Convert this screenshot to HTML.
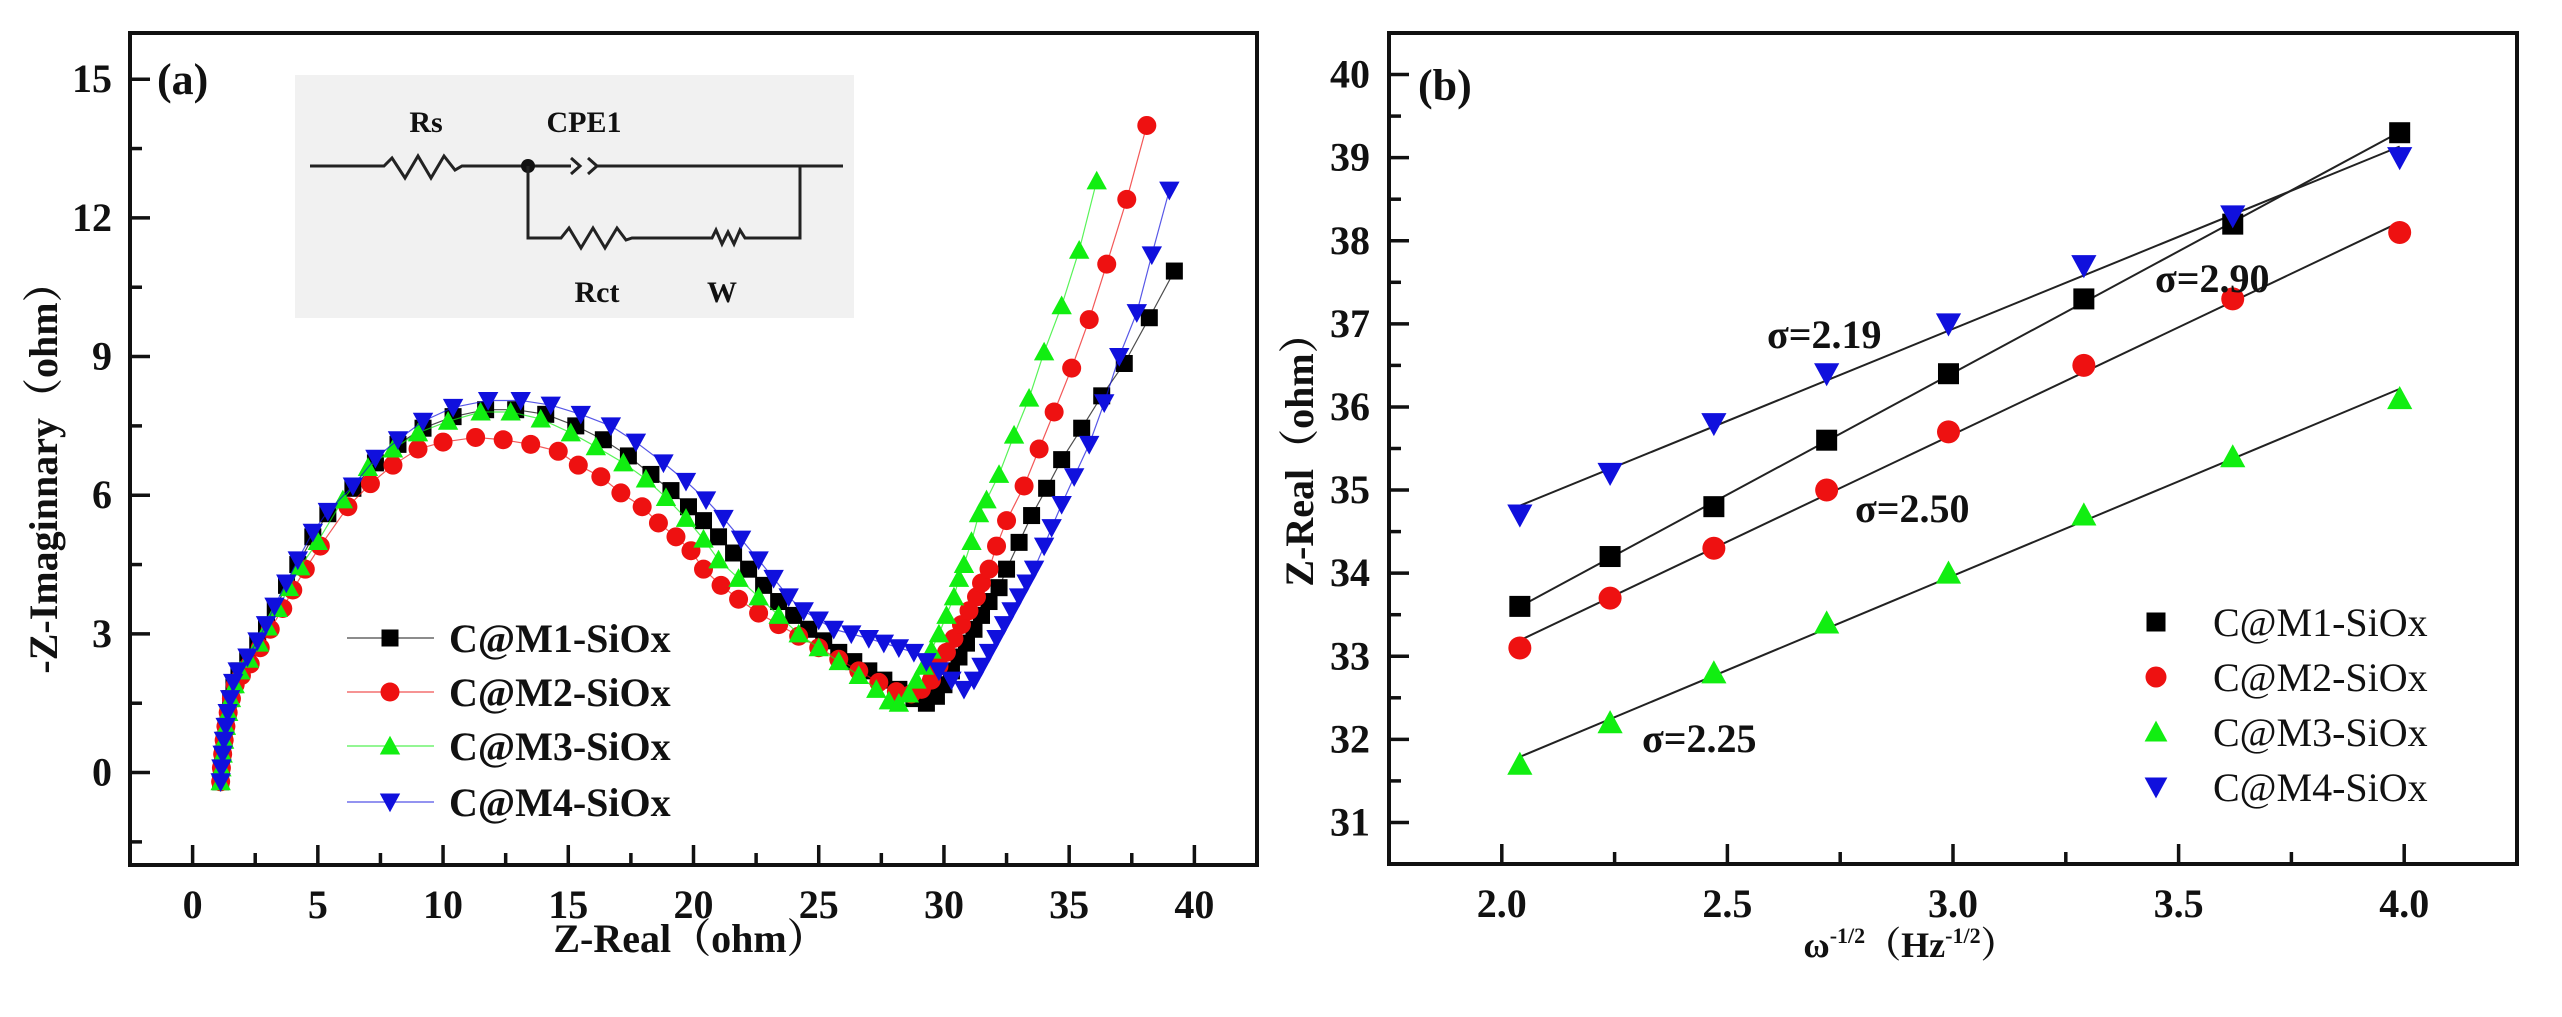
<!DOCTYPE html>
<html><head><meta charset="utf-8">
<style>
html,body{margin:0;padding:0;background:#fff;}
svg{display:block;}
text{font-family:"Liberation Serif","Noto Serif CJK SC",serif;fill:#111;}
</style></head>
<body>
<svg id="fig" width="2562" height="1017" viewBox="0 0 2562 1017">
  <g id="panelA"></g>
  <g id="panelB"></g>
</svg>
<script>
// ---------- Panel (a) data: Nyquist plot (Z-Real, -Z-Imag) ----------
const aSeriesNames = ["C@M1-SiOx","C@M2-SiOx","C@M3-SiOx","C@M4-SiOx"];
const aXTicks = [0,5,10,15,20,25,30,35,40];
const aYTicks = [0,3,6,9,12,15];
const m1Pts = [[1.12,-0.2],[1.15,0.1],[1.2,0.4],[1.26,0.7],[1.33,1.0],[1.42,1.3],[1.52,1.6],[1.65,1.9],[1.85,2.2],[2.2,2.45],[2.6,2.8],[2.95,3.15],[3.3,3.55],[3.75,4.05],[4.2,4.5],[4.8,5.1],[5.4,5.6],[6.4,6.15],[7.3,6.7],[8.2,7.1],[9.2,7.45],[10.4,7.7],[11.7,7.85],[12.9,7.85],[14.1,7.75],[15.3,7.5],[16.4,7.2],[17.4,6.85],[18.3,6.45],[19.1,6.1],[19.8,5.75],[20.4,5.45],[21.0,5.1],[21.6,4.75],[22.2,4.4],[22.8,4.05],[23.4,3.7],[24.0,3.4],[24.6,3.1],[25.2,2.85],[25.8,2.6],[26.4,2.4],[27.0,2.2],[27.6,2.0],[28.2,1.8],[28.8,1.6],[29.3,1.5],[29.7,1.65],[30.0,1.9],[30.3,2.2],[30.6,2.5],[30.9,2.8],[31.2,3.1],[31.5,3.4],[31.8,3.7],[32.2,4.0],[32.5,4.4],[33.0,4.98],[33.5,5.56],[34.1,6.15],[34.7,6.77],[35.5,7.45],[36.3,8.15],[37.2,8.85],[38.2,9.84],[39.2,10.85]];
const m2Pts = [[1.12,-0.2],[1.15,0.1],[1.2,0.4],[1.26,0.7],[1.33,1.0],[1.42,1.3],[1.55,1.6],[1.7,1.9],[1.95,2.1],[2.3,2.35],[2.7,2.7],[3.1,3.1],[3.6,3.55],[4.0,3.95],[4.5,4.4],[5.1,4.9],[6.2,5.75],[7.1,6.25],[8.0,6.65],[9.0,7.0],[10.0,7.15],[11.3,7.25],[12.4,7.2],[13.5,7.1],[14.6,6.95],[15.4,6.65],[16.3,6.4],[17.1,6.05],[17.95,5.75],[18.6,5.4],[19.3,5.1],[19.9,4.8],[20.4,4.4],[21.1,4.05],[21.8,3.75],[22.6,3.45],[23.4,3.2],[24.2,2.95],[25.0,2.7],[25.8,2.45],[26.6,2.2],[27.4,1.95],[28.1,1.75],[28.7,1.7],[29.1,1.8],[29.5,2.0],[29.8,2.3],[30.1,2.6],[30.4,2.9],[30.7,3.2],[31.0,3.5],[31.3,3.8],[31.5,4.1],[31.8,4.4],[32.1,4.9],[32.5,5.45],[33.2,6.2],[33.8,7.0],[34.4,7.8],[35.1,8.75],[35.8,9.8],[36.5,11.0],[37.3,12.4],[38.1,14.0]];
const m3Pts = [[1.12,-0.2],[1.15,0.1],[1.2,0.4],[1.26,0.7],[1.33,1.0],[1.42,1.3],[1.53,1.6],[1.68,1.9],[1.9,2.2],[2.25,2.45],[2.65,2.8],[3.0,3.15],[3.4,3.55],[3.85,4.0],[4.3,4.45],[5.0,5.0],[6.0,5.9],[7.0,6.6],[8.0,7.0],[9.0,7.35],[10.2,7.6],[11.5,7.8],[12.7,7.8],[13.9,7.65],[15.1,7.35],[16.1,7.05],[17.2,6.7],[18.1,6.35],[18.9,5.95],[19.7,5.5],[20.4,5.05],[21.0,4.6],[21.8,4.2],[22.6,3.8],[23.4,3.4],[24.2,3.0],[25.0,2.7],[25.8,2.4],[26.6,2.1],[27.3,1.8],[27.8,1.55],[28.2,1.5],[28.6,1.7],[28.9,2.0],[29.2,2.3],[29.5,2.65],[29.8,3.0],[30.1,3.4],[30.4,3.8],[30.6,4.2],[30.8,4.5],[31.1,5.0],[31.4,5.6],[31.7,5.9],[32.2,6.45],[32.8,7.3],[33.4,8.1],[34.0,9.1],[34.7,10.1],[35.4,11.3],[36.1,12.8]];
const m4Pts = [[1.12,-0.2],[1.15,0.1],[1.2,0.4],[1.25,0.7],[1.32,1.0],[1.4,1.3],[1.5,1.6],[1.62,1.95],[1.8,2.2],[2.19,2.5],[2.59,2.85],[2.93,3.2],[3.27,3.6],[3.74,4.1],[4.2,4.6],[4.8,5.2],[5.4,5.65],[6.4,6.2],[7.3,6.8],[8.2,7.2],[9.2,7.6],[10.4,7.9],[11.8,8.05],[13.1,8.05],[14.3,7.95],[15.5,7.75],[16.7,7.5],[17.7,7.15],[18.8,6.7],[19.7,6.3],[20.5,5.9],[21.2,5.5],[21.9,5.05],[22.6,4.6],[23.2,4.2],[23.8,3.8],[24.4,3.5],[25.0,3.3],[25.6,3.1],[26.3,3.0],[27.0,2.9],[27.6,2.8],[28.2,2.7],[28.8,2.6],[29.3,2.4],[29.8,2.2],[30.3,2.0],[30.8,1.8],[31.2,2.0],[31.5,2.3],[31.8,2.6],[32.1,2.9],[32.4,3.2],[32.7,3.5],[33.0,3.8],[33.3,4.1],[33.6,4.4],[34.0,4.9],[34.3,5.3],[34.7,5.8],[35.2,6.4],[35.8,7.1],[36.4,8.0],[37.0,9.0],[37.7,9.95],[38.3,11.2],[39.0,12.6]];

// ---------- Panel (b) data: Z-Real vs omega^-1/2 ----------
const bXValues = [2.04,2.24,2.47,2.72,2.99,3.29,3.62,3.99];
const bM1 = [33.6,34.2,34.8,35.6,36.4,37.3,38.2,39.3];
const bM2 = [33.1,33.7,34.3,35.0,35.7,36.5,37.3,38.1];
const bM3 = [31.7,32.2,32.8,33.4,34.0,34.7,35.4,36.1];
const bM4 = [34.7,35.2,35.8,36.4,37.0,37.7,38.3,39.0];
const bXTicks = [2.0,2.5,3.0,3.5,4.0];
const bYTicks = [31,32,33,34,35,36,37,38,39,40];
const sigmaLabels = ["σ=2.90","σ=2.50","σ=2.25","σ=2.19"];

const NS="http://www.w3.org/2000/svg";
function mk(parent,tag,attrs,text){
  const e=document.createElementNS(NS,tag);
  for(const k in attrs) e.setAttribute(k,attrs[k]);
  if(text!==undefined) e.textContent=text;
  parent.appendChild(e);
  return e;
}
const colors=["#000000","#ee1111","#11ee11","#1010dd"];
const shapes=["square","circle","up","down"];
function marker(g,shape,cx,cy,s,col){
  let e;
  if(shape==="square") e=mk(g,"rect",{x:cx-s/2,y:cy-s/2,width:s,height:s,fill:col});
  else if(shape==="circle") e=mk(g,"circle",{cx:cx,cy:cy,r:s/2+1,fill:col});
  else if(shape==="up") e=mk(g,"polygon",{points:`${cx-s*0.6},${cy+s*0.5} ${cx+s*0.6},${cy+s*0.5} ${cx},${cy-s*0.6}`,fill:col});
  else e=mk(g,"polygon",{points:`${cx-s*0.6},${cy-s*0.5} ${cx+s*0.6},${cy-s*0.5} ${cx},${cy+s*0.6}`,fill:col});
  return e;
}

// ================= PANEL A =================
const A={l:130,r:1257,t:33,b:865,x0:-2.5,x1:42.5,y0:-2,y1:16};
const ax=v=>A.l+(v-A.x0)/(A.x1-A.x0)*(A.r-A.l);
const ay=v=>A.b-(v-A.y0)/(A.y1-A.y0)*(A.b-A.t);
const gA=document.getElementById("panelA");

// inset circuit
const inset=mk(gA,"g",{});


mk(inset,"rect",{x:295,y:75,width:559,height:243,fill:"#f1f1f1"});
const wire={stroke:"#222","stroke-width":3,fill:"none"};
mk(inset,"polyline",Object.assign({points:"310,166 384,166 392,158 405,178 418,156 431,178 444,156 455,170 462,166 571,166"},wire));
mk(inset,"polyline",Object.assign({points:"571,158 580,166 571,174"},wire));
mk(inset,"polyline",Object.assign({points:"588,158 597,166 588,174"},wire));
mk(inset,"line",Object.assign({x1:597,y1:166,x2:843,y2:166},wire));
mk(inset,"circle",{cx:528,cy:166,r:7,fill:"#111"});
mk(inset,"polyline",Object.assign({points:"528,166 528,238 561,238 569,228 581,248 593,228 605,248 617,228 626,240 632,238 712,238 716,230 722,244 728,232 734,244 740,230 745,238 800,238 800,166"},wire));
mk(inset,"text",{x:426,y:132,"font-size":30,"font-weight":"bold","text-anchor":"middle"},"Rs");
mk(inset,"text",{x:584,y:132,"font-size":30,"font-weight":"bold","text-anchor":"middle"},"CPE1");
mk(inset,"text",{x:597,y:302,"font-size":30,"font-weight":"bold","text-anchor":"middle"},"Rct");
mk(inset,"text",{x:722,y:302,"font-size":30,"font-weight":"bold","text-anchor":"middle"},"W");

// series
const aData=[m1Pts,m2Pts,m3Pts,m4Pts];
aData.forEach((pts,i)=>{
  const g=mk(gA,"g",{});
  
  
  mk(g,"polyline",{points:pts.map(p=>ax(p[0])+","+ay(p[1])).join(" "),fill:"none",stroke:colors[i],"stroke-width":1.2,opacity:0.7});
  pts.forEach(p=>{
    const m=marker(g,shapes[i],ax(p[0]),ay(p[1]),17,colors[i]);
    
    
  });
});

// axes frame
const frameA=mk(gA,"rect",{x:A.l,y:A.t,width:A.r-A.l,height:A.b-A.t,fill:"none",stroke:"#111","stroke-width":4});


for(let v=-2.5;v<=42.5;v+=2.5){
  const major=aXTicks.includes(v);
  if(v<=A.x0||v>=A.x1) continue;
  mk(gA,"line",{x1:ax(v),y1:A.b,x2:ax(v),y2:A.b-(major?20:12),stroke:"#111","stroke-width":3.5});
}
for(let v=-1.5;v<=16;v+=1.5){
  const major=aYTicks.includes(v);
  mk(gA,"line",{x1:A.l,y1:ay(v),x2:A.l+(major?20:12),y2:ay(v),stroke:"#111","stroke-width":3.5});
}
aXTicks.forEach(v=>{
  const t=mk(gA,"text",{x:ax(v),y:918,"font-size":40,"font-weight":"bold","text-anchor":"middle"},String(v));
  
  
});
aYTicks.forEach(v=>{
  const t=mk(gA,"text",{x:112,y:ay(v)+13,"font-size":40,"font-weight":"bold","text-anchor":"end"},String(v));
  
  
});
const axTitle=mk(gA,"text",{x:690,y:952,"font-size":40,"font-weight":"bold","text-anchor":"middle"},"Z-Real（ohm）");


const ayTitle=mk(gA,"text",{x:0,y:0,"font-size":40,"font-weight":"bold","text-anchor":"middle",transform:"translate(57,468) rotate(-90)"},"-Z-Imaginnary（ohm）");


const la=mk(gA,"text",{x:157,y:94,"font-size":44,"font-weight":"bold"},"(a)");



// legend a
const legA=mk(gA,"g",{});


const legAY=[638,692,746,802];
aSeriesNames.forEach((n,i)=>{
  const e=mk(legA,"g",{});
  
  
  mk(e,"line",{x1:347,y1:legAY[i],x2:434,y2:legAY[i],stroke:colors[i],"stroke-width":1.5,opacity:0.6});
  marker(e,shapes[i],390,legAY[i],17,colors[i]);
  mk(e,"text",{x:449,y:legAY[i]+14,"font-size":40,"font-weight":"bold"},n);
});

// ================= PANEL B =================
const B={l:1389,r:2517,t:33,b:864,x0:1.75,x1:4.25,y0:30.5,y1:40.5};
const bx=v=>B.l+(v-B.x0)/(B.x1-B.x0)*(B.r-B.l);
const by=v=>B.b-(v-B.y0)/(B.y1-B.y0)*(B.b-B.t);
const gB=document.getElementById("panelB");
const bData=[bM1,bM2,bM3,bM4];
// fit lines
bData.forEach((ys,i)=>{
  const n=ys.length;
  const mx=bXValues.reduce((a,b)=>a+b,0)/n, my=ys.reduce((a,b)=>a+b,0)/n;
  let sxy=0,sxx=0;
  for(let k=0;k<n;k++){sxy+=(bXValues[k]-mx)*(ys[k]-my);sxx+=(bXValues[k]-mx)**2;}
  const s=sxy/sxx, c=my-s*mx;
  const xa=bXValues[0], xb=bXValues[n-1];
  const ln=mk(gB,"line",{x1:bx(xa),y1:by(s*xa+c),x2:bx(xb),y2:by(s*xb+c),stroke:"#222","stroke-width":2});
  
  
});
bData.forEach((ys,i)=>{
  const g=mk(gB,"g",{});
  
  
  ys.forEach((v,k)=>{
    const m=marker(g,shapes[i],bx(bXValues[k]),by(v),21,colors[i]);
    
    
  });
});
const frameB=mk(gB,"rect",{x:B.l,y:B.t,width:B.r-B.l,height:B.b-B.t,fill:"none",stroke:"#111","stroke-width":4});


for(let k=0;k<=9;k++){
  const v=2.0+k*0.25; const major=(k%2===0);
  mk(gB,"line",{x1:bx(v),y1:B.b,x2:bx(v),y2:B.b-(major?20:12),stroke:"#111","stroke-width":3.5});
}
for(let k=0;k<=19;k++){
  const v=31+k*0.5; const major=(k%2===0);
  mk(gB,"line",{x1:B.l,y1:by(v),x2:B.l+(major?20:12),y2:by(v),stroke:"#111","stroke-width":3.5});
}
bXTicks.forEach(v=>{
  const t=mk(gB,"text",{x:bx(v),y:917,"font-size":40,"font-weight":"bold","text-anchor":"middle"},v.toFixed(1));
  
  
});
bYTicks.forEach(v=>{
  const t=mk(gB,"text",{x:1370,y:by(v)+13,"font-size":40,"font-weight":"bold","text-anchor":"end"},String(v));
  
  
});
const bxT=mk(gB,"text",{x:1910,y:957,"font-size":36,"font-weight":"bold","text-anchor":"middle"});


bxT.innerHTML='ω<tspan dy="-14" font-size="22">-1/2</tspan><tspan dy="14">（Hz</tspan><tspan dy="-14" font-size="22">-1/2</tspan><tspan dy="14">）</tspan>';
const byT=mk(gB,"text",{x:0,y:0,"font-size":40,"font-weight":"bold","text-anchor":"middle",transform:"translate(1313,450) rotate(-90)"},"Z-Real（ohm）");


const lb=mk(gB,"text",{x:1418,y:100,"font-size":44,"font-weight":"bold"},"(b)");


// sigma annotations
const sigPos=[[2155,292],[1855,522],[1642,752],[1767,348]];
sigmaLabels.forEach((s,i)=>{
  const t=mk(gB,"text",{x:sigPos[i][0],y:sigPos[i][1],"font-size":40,"font-weight":"bold"},s);
  
  
});
// legend b
const legB=mk(gB,"g",{});


const legBY=[622,677,732,787];
aSeriesNames.forEach((n,i)=>{
  const e=mk(legB,"g",{});
  
  
  marker(e,shapes[i],2156,legBY[i],19,colors[i]);
  mk(e,"text",{x:2213,y:legBY[i]+14,"font-size":40},n);
});
</script>
</body></html>
